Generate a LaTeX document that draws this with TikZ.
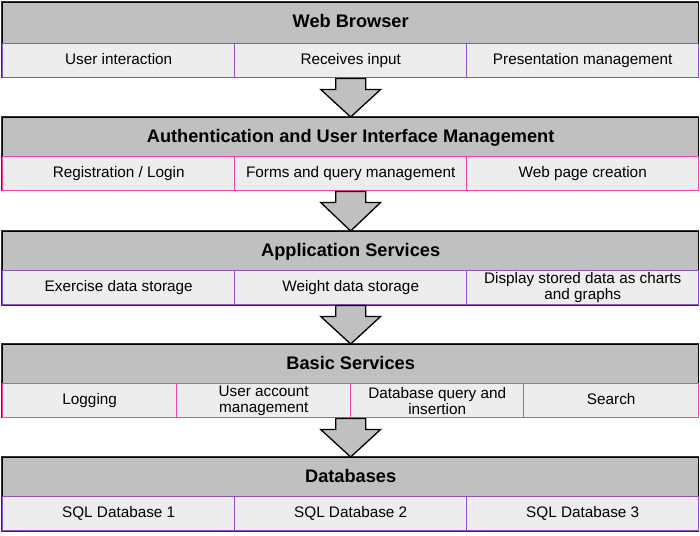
\documentclass[tikz,border=0pt]{standalone}
\usepackage{fontspec}
\setmainfont{Liberation Sans}
\usetikzlibrary{calc}
\definecolor{hdrgray}{HTML}{C0C0C0}
\definecolor{cellgray}{HTML}{EDEDED}
\definecolor{purp}{HTML}{9150C0}
\definecolor{pinkc}{HTML}{F0469C}
\tikzset{
  header/.style={draw=black, line width=1.3pt, fill=hdrgray, anchor=north west, minimum height=41pt, inner sep=0pt, text height=13pt, text depth=3.5pt, font=\fontsize{18.2}{20}\selectfont\bfseries},
  cellbase/.style={fill=cellgray, draw=#1, line width=1.4pt, anchor=north west, minimum height=34pt, inner sep=0pt, align=center, font=\fontsize{15.3}{16}\selectfont},
  cell/.style={cellbase=#1, text height=11pt, text depth=3.5pt},
  cellml/.style={cellbase=#1},
  frame/.style={draw=black!80, line width=1.3pt},
  arrowshape/.style={draw=black, line width=1.3pt, fill=hdrgray, line join=miter}
}
\newcommand{\layerarrow}[2]{%
  \path let \p1=(#1.south), \p2=(#2.north) in
    coordinate (as) at (\x2,\y1) coordinate (at) at (\x2,\y2);
  \draw[arrowshape] ($(as)+(-15,0)$) -- ($(as)+(15,0)$) -- ($(as)+(15,11)$) -- ($(as)+(30,11)$) -- (at) -- ($(as)+(-30,11)$) -- ($(as)+(-15,11)$) -- cycle;
}
\begin{document}
\begin{tikzpicture}[x=1pt,y=-1pt]
\useasboundingbox (0,0) rectangle (700,535);
% Layer 1
\draw[frame] (1.3,1.3) rectangle (698.7,77.8);
\node[header, minimum width=696pt] (h1) at (2,2) {Web Browser};
\node[cell=purp, minimum width=232pt] (c11) at (2,43) {User interaction};
\node[cell=purp, minimum width=232pt] (c12) at (234,43) {Receives input};
\node[cell=purp, minimum width=232pt] (c13) at (466,43) {Presentation management};
% Layer 2
\draw[frame] (1.3,116.3) rectangle (698.7,190.8);
\node[header, minimum width=696pt] (h2) at (2,117) {Authentication and User Interface Management};
\node[cell=pinkc, minimum width=232pt] (c21) at (2,156) {Registration / Login};
\node[cell=pinkc, minimum width=232pt] (c22) at (234,156) {Forms and query management};
\node[cell=pinkc, minimum width=232pt] (c23) at (466,156) {Web page creation};
% Layer 3
\draw[frame] (1.3,230.3) rectangle (698.7,305.8);
\node[header, minimum width=696pt] (h3) at (2,231) {Application Services};
\node[cell=purp, minimum width=232pt] (c31) at (2,270) {Exercise data storage};
\node[cell=purp, minimum width=232pt] (c32) at (234,270) {Weight data storage};
\node[cellml=purp, minimum width=232pt] (c33) at (466,270) {Display stored data as charts\\and graphs};
% Layer 4
\draw[frame] (1.3,343.3) rectangle (698.7,417.8);
\node[header, minimum width=696pt] (h4) at (2,344) {Basic Services};
\node[cell=pinkc, minimum width=174pt] (c41) at (2,383) {Logging};
\node[cellml=pinkc, minimum width=174pt] (c42) at (176,383) {User account\\management};
\node[cellml=pinkc, minimum width=173pt] (c43) at (350,383) {Database query and\\insertion};
\node[cell=pinkc, minimum width=175pt] (c44) at (523,383) {Search};
% Layer 5
\draw[frame] (1.3,456.3) rectangle (698.7,531.8);
\node[header, minimum width=696pt] (h5) at (2,457) {Databases};
\node[cell=purp, minimum width=232pt] (c51) at (2,496) {SQL Database 1};
\node[cell=purp, minimum width=232pt] (c52) at (234,496) {SQL Database 2};
\node[cell=purp, minimum width=232pt] (c53) at (466,496) {SQL Database 3};
% Arrows
\layerarrow{c12}{h2}
\layerarrow{c22}{h3}
\layerarrow{c32}{h4}
\layerarrow{c43}{h5}
\end{tikzpicture}
\end{document}
